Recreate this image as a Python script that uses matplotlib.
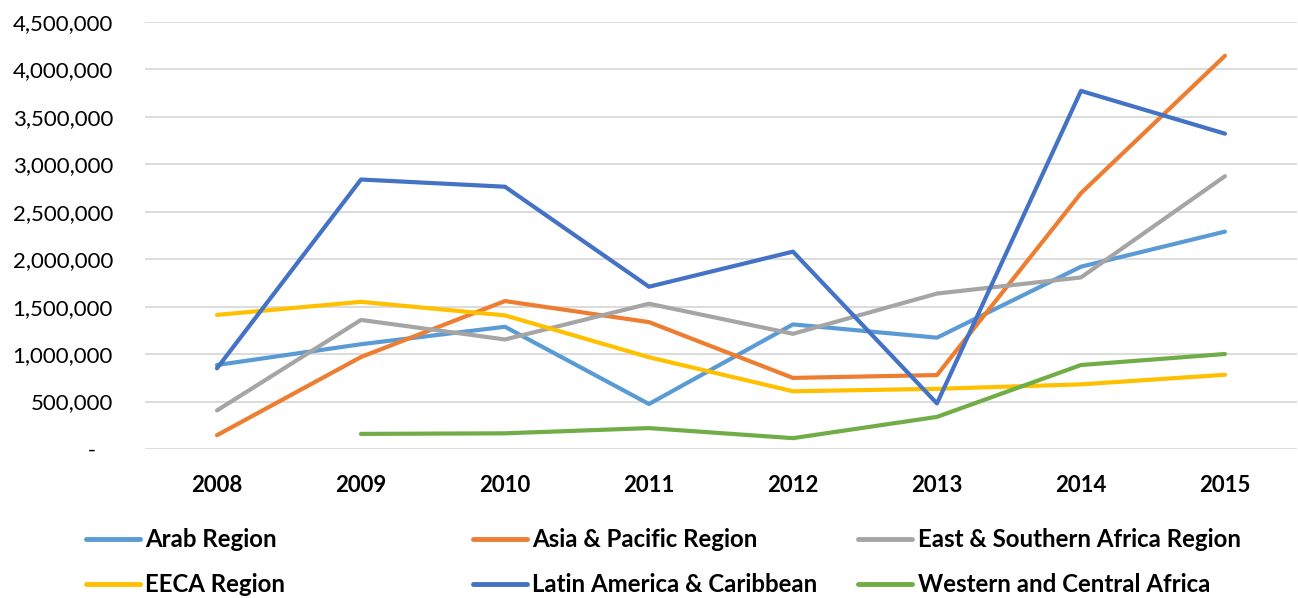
import numpy as np
import matplotlib
matplotlib.use("Agg")
import matplotlib.pyplot as plt
from matplotlib.ticker import FuncFormatter

# ------------------------------
# DATA
# ------------------------------
years = ["2008", "2009", "2010", "2011", "2012", "2013", "2014", "2015"]

arab = [885_000, 1_104_000, 1_288_000, 474_000, 1_313_000, 1_173_000, 1_921_000, 2_291_000]
asia_pacific = [145_000, 969_000, 1_559_000, 1_337_000, 749_000, 779_000, 2_696_000, 4_144_000]
east_southern_africa = [406_000, 1_360_000, 1_154_000, 1_531_000, 1_214_000, 1_638_000, 1_808_000, 2_875_000]
eeca = [1_413_000, 1_551_000, 1_408_000, 967_000, 608_000, 634_000, 681_000, 782_000]
latin_america = [850_000, 2_840_000, 2_764_000, 1_710_000, 2_080_000, 480_000, 3_774_000, 3_323_000]
western_central_africa = [np.nan, 159_000, 165_000, 220_000, 114_000, 338_000, 885_000, 1_001_000]

series_names = ["Arab Region", "Asia & Pacific Region", "East & Southern Africa Region",
                "EECA Region", "Latin America & Caribbean", "Western and Central Africa"]
series_values = [arab, asia_pacific, east_southern_africa, eeca, latin_america, western_central_africa]
series_colors = ["#5B9BD5", "#ED7D31", "#A5A5A5", "#FFC000", "#4472C4", "#70AD47"]

# ------------------------------
# PLOT
# ------------------------------
plt.rcParams["font.family"] = ["Lato", "DejaVu Sans"]

fig = plt.figure(figsize=(12.98, 5.98), dpi=100)
ax = fig.add_axes([0.1117, 0.2492, 0.8875, 0.714])

x = np.arange(len(years))
lines = []
for name, vals, col in zip(series_names, series_values, series_colors):
    ln, = ax.plot(x, vals, color=col, linewidth=3, label=name, solid_capstyle="round")
    lines.append(ln)

ax.set_xlim(-0.5, len(years) - 0.5)
ax.set_ylim(0, 4_500_000)
ax.set_yticks(np.arange(0, 4_500_001, 500_000))
ax.yaxis.set_major_formatter(FuncFormatter(lambda v, p: " -   " if v == 0 else f"{v:,.0f}"))
ax.set_xticks(x)
ax.set_xticklabels(years, fontweight="bold")

ax.grid(axis="y", color="#d9d9d9", linewidth=1.3)
ax.set_axisbelow(True)
for s in ax.spines.values():
    s.set_visible(False)
ax.tick_params(axis="y", length=0, pad=23, labelsize=16, labelcolor="#000000")
ax.tick_params(axis="x", length=0, pad=19, labelsize=16)

# legend: three columns placed like the original
col_x = [0.0495, 0.3475, 0.6445]
for i, cx in enumerate(col_x):
    hs = [lines[i], lines[i + 3]]
    leg = fig.legend(hs, [h.get_label() for h in hs], loc="upper left",
                     bbox_to_anchor=(cx, 0.153), frameon=False, ncol=1,
                     handlelength=2.25, handletextpad=0.22, labelspacing=0.93,
                     prop={"weight": "bold", "size": 17.3})
    for h in leg.legend_handles:
        h.set_linewidth(3.5)

fig.savefig("out.png", dpi=100)
